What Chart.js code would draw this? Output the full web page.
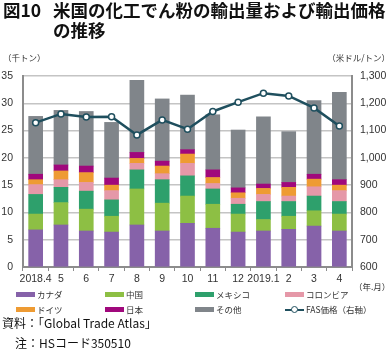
<!DOCTYPE html>
<html lang="ja">
<head>
<meta charset="utf-8">
<script src="https://cdn.jsdelivr.net/npm/chart.js@4"></script>
<style>
  html, body { margin: 0; padding: 0; background: #fff; }
  body { width: 392px; height: 354px; position: relative; overflow: hidden; font-family: 'Noto Sans CJK JP', 'Noto Sans', sans-serif; color: #222; }
  #wrap { position: absolute; left: 0; top: 0; width: 392px; height: 354px; }
  .abs { position: absolute; white-space: nowrap; }
  .title { font-weight: bold; font-size: 17.5px; line-height: 20px; color: #111; letter-spacing: 0px; }
  .unit { font-size: 8.5px; color: #333; }
  .lg { position: absolute; font-size: 8.5px; line-height: 10px; color: #333; white-space: nowrap; }
  .sw { display: inline-block; width: 19px; height: 5px; vertical-align: middle; margin-right: 2px; position: relative; top: -1px; }
  .src { font-size: 12px; color: #111; }
</style>
</head>
<body>
<div id="wrap"><canvas id="c" width="392" height="354"></canvas></div>
<div class="abs title" style="left:3px; top:0px;">図10</div>
<div class="abs title" style="left:53px; top:0px;">米国の化工でん粉の輸出量および輸出価格</div>
<div class="abs title" style="left:53px; top:20px;">の推移</div>
<div class="abs unit" style="left:3px; top:51px;">（千トン）</div>
<div class="abs unit" style="right:2px; top:51px;">（米ドル/トン）</div>
<div class="abs unit" style="left:354px; top:280px;">（年.月）</div>
<div id="legend"></div>
<div class="abs src" style="left:2px; top:314px;">資料：「Global Trade Atlas」</div>
<div class="abs src" style="left:15px; top:334px;">注：HSコード350510</div>
<script>
const categories = ['2018.4','5','6','7','8','9','10','11','12','2019.1','2','3','4'];
const canada   = [6.8, 7.7, 6.6, 6.4, 7.7, 6.6, 8.0, 7.1, 6.4, 6.6, 6.9, 7.5, 6.6];
const china    = [2.9, 4.1, 4.0, 2.9, 6.6, 5.1, 5.0, 4.4, 3.3, 2.1, 2.4, 2.8, 3.1];
const mexico   = [3.6, 2.8, 3.3, 3.0, 3.5, 4.3, 3.7, 2.8, 1.8, 3.3, 2.7, 2.7, 2.3];
const colombia = [1.8, 1.4, 1.6, 1.7, 1.2, 1.1, 2.3, 1.0, 1.1, 1.3, 1.0, 1.7, 2.0];
const germany  = [0.9, 1.6, 1.8, 1.0, 0.9, 1.4, 1.7, 1.1, 1.0, 1.1, 1.6, 1.4, 1.0];
const japan    = [1.0, 1.1, 1.2, 1.3, 1.1, 0.9, 0.8, 1.4, 0.9, 0.8, 0.9, 0.9, 1.0];
const other    = [10.6, 10.0, 10.0, 10.2, 13.2, 11.4, 10.0, 10.1, 10.6, 12.3, 9.3, 13.5, 16.0];
const fasPrice = [1129, 1161, 1150, 1151, 1084, 1139, 1105, 1170, 1204, 1237, 1227, 1183, 1117];

const seriesNames = ['カナダ','中国','メキシコ','コロンビア','ドイツ','日本','その他'];
const seriesData = [canada, china, mexico, colombia, germany, japan, other];
const seriesColors = ['#8662a9','#8dbf44','#2ea06c','#e598a8','#ee9b33','#a0087c','#80858a'];
const lineName = 'FAS価格（右軸）';
const lineColor = '#1f4f5e';

const tickFont = { family: "'Liberation Sans Narrow', 'Liberation Sans', Arial, sans-serif", size: 10.5 };

const datasets = seriesNames.map((n, i) => ({
  type: 'bar', label: n, data: seriesData[i], backgroundColor: seriesColors[i],
  borderWidth: 0, barThickness: 14, yAxisID: 'y', stack: 's', order: 1
}));
datasets.push({
  type: 'line', label: lineName, data: fasPrice, yAxisID: 'y1',
  borderColor: lineColor, borderWidth: 2.5, pointRadius: 3, pointBorderWidth: 1.5,
  pointBackgroundColor: '#fff', pointBorderColor: lineColor, tension: 0, order: 0
});

new Chart(document.getElementById('c'), {
  data: { labels: categories, datasets },
  options: {
    responsive: false, animation: false,
    layout: { padding: { top: 76, bottom: 67, left: 0, right: 0 } },
    plugins: { legend: { display: false }, tooltip: { enabled: false } },
    scales: {
      x: {
        stacked: true,
        grid: { offset: true, drawOnChartArea: false, tickLength: 4, color: '#8c8c8c', lineWidth: 1 },
        border: { color: '#8c8c8c', width: 2 },
        ticks: { font: tickFont, color: '#333', padding: 2, maxRotation: 0, autoSkip: false },
        afterFit: s => { s.height = 20; }
      },
      y: {
        stacked: true, min: 0, max: 35,
        ticks: { stepSize: 5, font: tickFont, color: '#333', padding: 10 },
        grid: { color: '#c4c4c4', lineWidth: 1.5, drawTicks: false },
        border: { color: '#8c8c8c', width: 2 },
        afterFit: s => { s.width = 23; }
      },
      y1: {
        position: 'right', min: 600, max: 1300,
        ticks: { stepSize: 100, font: tickFont, color: '#333', padding: 8,
                 callback: v => v.toLocaleString('en-US') },
        grid: { drawOnChartArea: false, drawTicks: false },
        border: { color: '#8c8c8c', width: 2 },
        afterFit: s => { s.width = 40; }
      }
    }
  }
});

// HTML legend, 4 columns x 2 rows
const lg = document.getElementById('legend');
const colX = [16, 105, 195, 285];
const rowY = [289, 304];
seriesNames.forEach((n, i) => {
  const d = document.createElement('div');
  d.className = 'lg';
  d.style.left = colX[i % 4] + 'px';
  d.style.top = rowY[Math.floor(i / 4)] + 'px';
  d.innerHTML = '<span class="sw" style="background:' + seriesColors[i] + '"></span>' + n;
  lg.appendChild(d);
});
const dl = document.createElement('div');
dl.className = 'lg';
dl.style.left = colX[3] + 'px';
dl.style.top = rowY[1] + 'px';
dl.innerHTML = '<span style="display:inline-block;position:relative;width:19px;height:10px;vertical-align:middle;margin-right:2px;top:-1px;">' +
  '<span style="position:absolute;left:0;top:4px;width:19px;height:2px;background:' + lineColor + '"></span>' +
  '<span style="position:absolute;left:6px;top:1.5px;width:5px;height:5px;border:1.5px solid ' + lineColor + ';border-radius:50%;background:#fff"></span>' +
  '</span>' + lineName;
lg.appendChild(dl);
</script>
</body>
</html>
